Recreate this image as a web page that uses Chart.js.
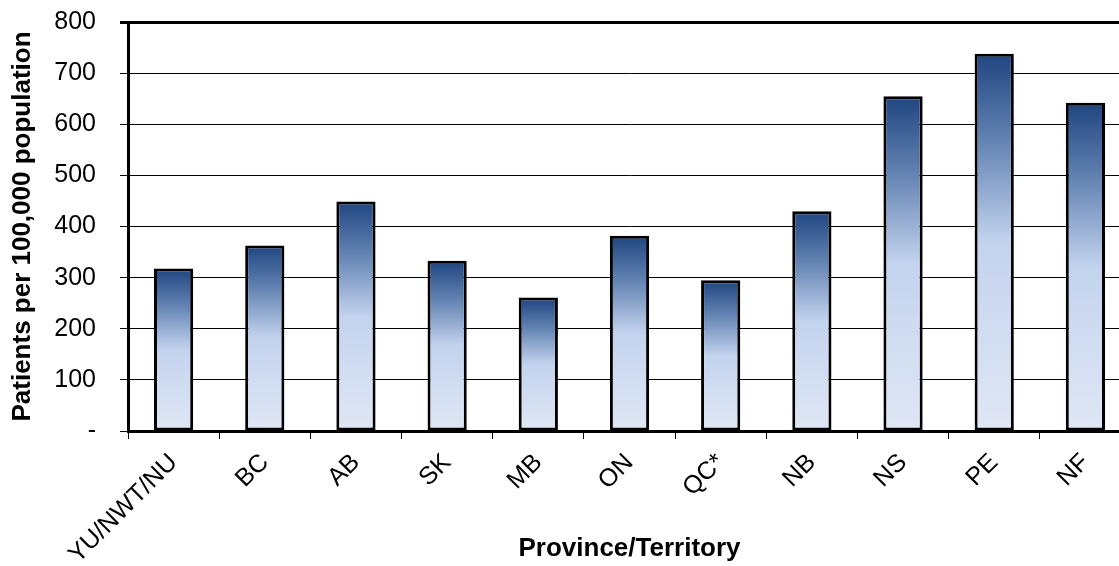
<!DOCTYPE html>
<html lang="en">
<head>
  <meta charset="UTF-8">
  <title>Patients per 100,000 population by Province/Territory</title>
  <style>
    body {
      margin: 0;
      padding: 0;
      background-color: #fff;
      overflow: hidden;
    }
    .container {
      position: relative;
      width: 1131px;
      height: 566px;
    }
  </style>
</head>
<body>
  <div class="container">
    <canvas id="rate-chart"></canvas>
  </div>

  <script src="https://cdn.jsdelivr.net/npm/chart.js"></script>
  <script>
    // Provinces / territories and their rates
    const provinces = ['YU/NWT/NU', 'BC', 'AB', 'SK', 'MB', 'ON', 'QC*', 'NB', 'NS', 'PE', 'NF'];
    const patientsPer100k = [318, 363, 449, 333, 261, 382, 295, 430, 655, 738, 642];
    const yTicks = [0, 100, 200, 300, 400, 500, 600, 700, 800];

    const FONT = 'Arial, "Liberation Sans", sans-serif';

    // Vertical gradient for each bar: dark blue top, light blue lower half
    function barGradient(context) {
      const chart = context.chart;
      const area = chart.chartArea;
      if (!area) return '#c3d3ee';
      const yScale = chart.scales.y;
      const value = context.raw;
      const top = yScale.getPixelForValue(value);
      const bottom = yScale.getPixelForValue(0);
      if (!isFinite(top) || !isFinite(bottom) || bottom - top < 1) return '#c3d3ee';
      const g = chart.ctx.createLinearGradient(0, top, 0, bottom);
      g.addColorStop(0, '#1f4580');
      g.addColorStop(0.22, '#5f80b0');
      g.addColorStop(0.5, '#c3d3ee');
      g.addColorStop(1, '#e0e7f5');
      return g;
    }

    const ctx = document.getElementById('rate-chart').getContext('2d');
    const rateChart = new Chart(ctx, {
      type: 'bar',
      data: {
        labels: provinces,
        datasets: [{
          label: 'Patients per 100,000 population',
          data: patientsPer100k,
          backgroundColor: barGradient,
          borderColor: '#000',
          borderWidth: 3,
          borderSkipped: false,
          categoryPercentage: 1,
          barPercentage: 0.43
        }]
      },
      options: {
        responsive: true,
        maintainAspectRatio: false,
        animation: false,
        layout: {
          padding: { top: 22, right: 0, left: 0, bottom: 0 }
        },
        plugins: {
          legend: { display: false },
          tooltip: { enabled: false }
        },
        scales: {
          x: {
            offset: true,
            afterFit: function(scale) { scale.height = 135; },
            border: { display: true, color: '#000', width: 3 },
            grid: {
              display: true,
              offset: true,
              drawOnChartArea: false,
              drawTicks: true,
              tickLength: 8,
              color: '#000',
              lineWidth: 1
            },
            ticks: {
              color: '#000',
              minRotation: 45,
              maxRotation: 45,
              autoSkip: false,
              padding: 9,
              font: { family: FONT, size: 25 }
            },
            title: {
              display: true,
              text: 'Province/Territory',
              color: '#000',
              padding: { top: 0, bottom: 2 },
              font: { family: FONT, size: 26, weight: 'bold' }
            }
          },
          y: {
            min: 0,
            max: 800,
            afterFit: function(scale) {
              scale.width = 128;
              // keep the wide label gap from pushing the plot down
              scale.paddingTop = 0;
              scale.paddingBottom = 0;
            },
            afterBuildTicks: function(scale) {
              scale.ticks = yTicks.map(v => ({ value: v }));
            },
            border: { display: true, color: '#000', width: 3 },
            grid: {
              color: '#000',
              lineWidth: function(c) { return c.tick && c.tick.value === 800 ? 3 : 1; },
              drawTicks: true,
              tickLength: 8
            },
            ticks: {
              color: '#000',
              padding: 24,
              font: { family: FONT, size: 25 },
              callback: function(value) { return value === 0 ? '-' : value; }
            },
            title: {
              display: true,
              text: 'Patients per 100,000 population',
              color: '#000',
              padding: { top: 7, bottom: 0 },
              font: { family: FONT, size: 26, weight: 'bold' }
            }
          }
        }
      }
    });
  </script>
</body>
</html>
